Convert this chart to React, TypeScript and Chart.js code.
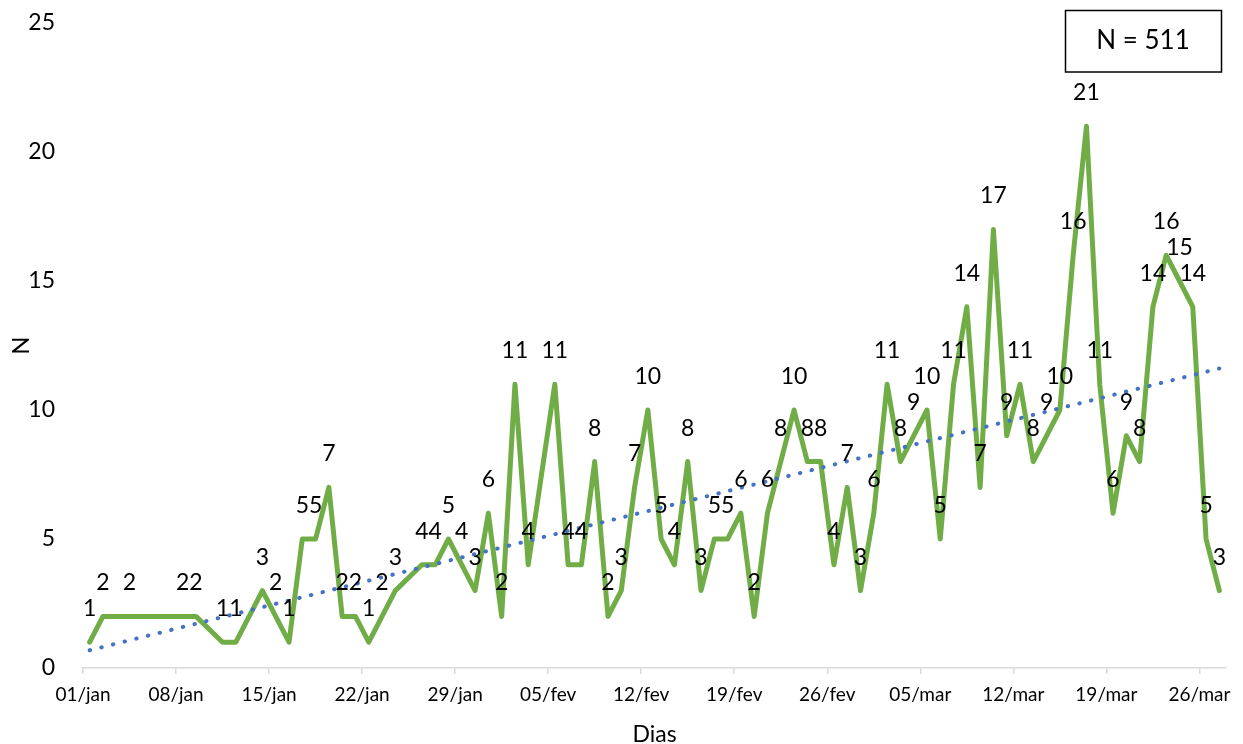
import { useEffect, useRef } from 'react';
import { Chart, registerables } from 'chart.js';

Chart.register(...registerables);

// Daily case counts (days without records are simply absent)
const dias = [
  '01/jan', '02/jan', '04/jan', '08/jan', '09/jan', '11/jan', '12/jan', '14/jan', '15/jan', '16/jan',
  '17/jan', '18/jan', '19/jan', '20/jan', '21/jan', '22/jan', '23/jan', '24/jan', '26/jan', '27/jan',
  '28/jan', '29/jan', '30/jan', '31/jan',
  '01/fev', '02/fev', '03/fev', '05/fev', '06/fev', '07/fev', '08/fev', '09/fev', '10/fev', '11/fev',
  '12/fev', '13/fev', '14/fev', '15/fev', '16/fev', '17/fev', '18/fev', '19/fev', '20/fev', '21/fev',
  '22/fev', '23/fev', '24/fev', '25/fev', '26/fev', '27/fev', '28/fev',
  '01/mar', '02/mar', '03/mar', '04/mar', '05/mar', '06/mar', '07/mar', '08/mar', '09/mar', '10/mar',
  '11/mar', '12/mar', '13/mar', '14/mar', '15/mar', '16/mar', '17/mar', '18/mar', '19/mar', '20/mar',
  '21/mar', '22/mar', '23/mar', '24/mar', '25/mar', '26/mar', '27/mar',
];

const casos = [
  1, 2, 2, 2, 2, 1, 1, 3, 2, 1,
  5, 5, 7, 2, 2, 1, 2, 3, 4, 4,
  5, 4, 3, 6,
  2, 11, 4, 11, 4, 4, 8, 2, 3, 7,
  10, 5, 4, 8, 3, 5, 5, 6, 2, 6,
  8, 10, 8, 8, 4, 7, 3,
  6, 11, 8, 9, 10, 5, 11, 14, 7, 17,
  9, 11, 8, 9, 10, 16, 21, 11, 6, 9,
  8, 14, 16, 15, 14, 5, 3,
];

const xTickLabels = [
  '01/jan', '08/jan', '15/jan', '22/jan', '29/jan', '05/fev', '12/fev',
  '19/fev', '26/fev', '05/mar', '12/mar', '19/mar', '26/mar',
];

const yTicks = [0, 5, 10, 15, 20, 25];

const MONTH_START: Record<string, number> = { jan: 0, fev: 31, mar: 59 };
const dayIndex = (d: string) => {
  const [dd, mm] = d.split('/');
  return MONTH_START[mm] + Number(dd) - 1;
};

const FONT = 'Lato, "Open Sans", sans-serif';
const GREEN = '#70AD47';
const BLUE = '#4472C4';
const AXIS_GRAY = '#D9D9D9';

export default function App() {
  const canvasRef = useRef<HTMLCanvasElement>(null);

  useEffect(() => {
    const points = dias.map((d, i) => ({ x: dayIndex(d), y: casos[i] }));
    const total = casos.reduce((a, b) => a + b, 0);

    // Linear least-squares trend over the dated points
    const n = points.length;
    const mx = points.reduce((s, p) => s + p.x, 0) / n;
    const my = points.reduce((s, p) => s + p.y, 0) / n;
    let sxy = 0;
    let sxx = 0;
    points.forEach((p) => {
      sxy += (p.x - mx) * (p.y - my);
      sxx += (p.x - mx) * (p.x - mx);
    });
    const slope = sxy / sxx;
    const intercept = my - slope * mx;
    const xFirst = points[0].x;
    const xLast = points[n - 1].x;
    const trend = [
      { x: xFirst, y: intercept + slope * xFirst },
      { x: xLast, y: intercept + slope * xLast },
    ];

    const lastDay = dayIndex(dias[dias.length - 1]);
    const tickValues = xTickLabels.map((l) => dayIndex(l) - 0.5);

    const valueLabels = {
      id: 'valueLabels',
      afterDatasetsDraw(chart: any) {
        const meta = chart.getDatasetMeta(1);
        const ctx = chart.ctx;
        ctx.save();
        ctx.font = `23px ${FONT}`;
        ctx.fillStyle = '#000';
        ctx.textAlign = 'center';
        ctx.textBaseline = 'alphabetic';
        meta.data.forEach((el: any, i: number) => {
          ctx.fillText(String(casos[i]), el.x, el.y - 26);
        });
        ctx.restore();
      },
    };

    const totalBox = {
      id: 'totalBox',
      afterDraw(chart: any) {
        const ctx = chart.ctx;
        ctx.save();
        ctx.strokeStyle = '#000';
        ctx.lineWidth = 1.5;
        ctx.strokeRect(1065.5, 10.5, 156, 61.5);
        ctx.font = `26px ${FONT}`;
        ctx.fillStyle = '#000';
        ctx.textAlign = 'center';
        ctx.textBaseline = 'alphabetic';
        ctx.fillText(`N = ${total}`, 1143, 48.5);
        ctx.restore();
      },
    };

    const chart = new Chart(canvasRef.current!, {
      type: 'line',
      data: {
        datasets: [
          {
            label: 'Linear (N)',
            data: trend,
            borderColor: BLUE,
            borderWidth: 4,
            borderDash: [0.5, 11.5],
            borderCapStyle: 'round',
            pointRadius: 0,
            fill: false,
            order: 0,
          },
          {
            label: 'N',
            data: points,
            borderColor: GREEN,
            borderWidth: 5,
            borderJoinStyle: 'round',
            borderCapStyle: 'round',
            pointRadius: 0,
            tension: 0,
            fill: false,
            order: 1,
          },
        ],
      },
      options: {
        responsive: false,
        animation: false,
        events: [],
        layout: { padding: { top: 23, right: 17, bottom: 0, left: 0 } },
        plugins: {
          legend: { display: false },
          tooltip: { enabled: false },
        },
        scales: {
          x: {
            type: 'linear',
            min: -0.5,
            max: lastDay + 0.5,
            afterBuildTicks: (scale: any) => {
              scale.ticks = tickValues.map((v) => ({ value: v }));
            },
            afterFit: (scale: any) => {
              scale.height = 76;
            },
            ticks: {
              autoSkip: false,
              maxRotation: 0,
              padding: 9,
              color: '#000',
              font: { family: FONT, size: 19 },
              callback: (_v: any, i: number) => xTickLabels[i],
            },
            grid: {
              drawOnChartArea: false,
              drawTicks: true,
              tickLength: 6,
              color: AXIS_GRAY,
              lineWidth: 1.5,
            },
            border: { display: true, color: AXIS_GRAY, width: 1.5 },
            title: {
              display: true,
              text: 'Dias',
              color: '#000',
              font: { family: FONT, size: 23, lineHeight: 0.8 },
              padding: { top: 0, bottom: 0 },
            },
          },
          y: {
            min: 0,
            max: 25,
            afterBuildTicks: (scale: any) => {
              scale.ticks = yTicks.map((v) => ({ value: v }));
            },
            afterFit: (scale: any) => {
              scale.width = 83;
              // only half a label is needed above/below the plot
              scale.paddingTop = 14;
              scale.paddingBottom = 14;
            },
            ticks: {
              padding: 28,
              color: '#000',
              font: { family: FONT, size: 23 },
            },
            grid: { display: false, drawTicks: false },
            border: { display: false },
            title: {
              display: true,
              text: 'N',
              color: '#000',
              font: { family: FONT, size: 24, lineHeight: 1.2 },
              padding: { top: 7, bottom: 0 },
            },
          },
        },
      },
      plugins: [valueLabels, totalBox],
    } as any);

    return () => chart.destroy();
  }, []);

  return (
    <div
      style={{
        position: 'absolute',
        left: 0,
        top: 0,
        width: 1243,
        height: 744,
        background: '#fff',
      }}
    >
      <canvas ref={canvasRef} width={1243} height={744} style={{ display: 'block' }} />
    </div>
  );
}
